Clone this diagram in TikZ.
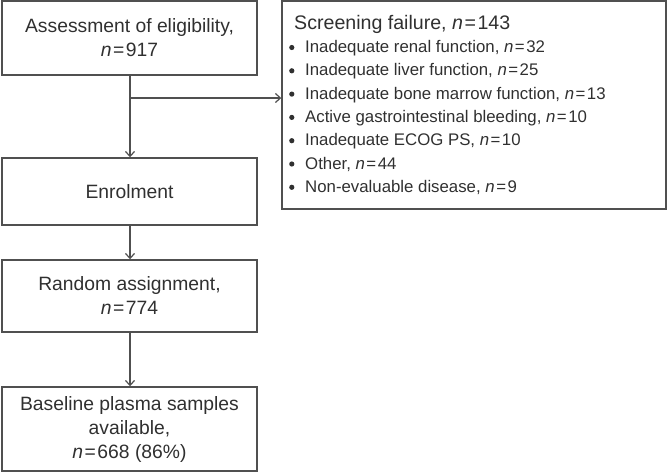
\documentclass[tikz,border=0pt]{standalone}
\usepackage{fontspec}
\setmainfont{Liberation Sans}
\usetikzlibrary{arrows.meta}
\definecolor{linec}{HTML}{505050}
\definecolor{textc}{HTML}{303030}
\newcommand{\nn}[1]{\textit{n}\kern1.5pt=\kern1.5pt#1}
\newcommand{\bul}{\makebox[17pt][l]{\kern1pt\tikz[baseline=0pt]\fill[textc] (2.6pt,5pt) circle[radius=2.6pt];}}
\tikzset{
  box/.style={draw=linec, line width=1.4pt, rectangle, inner sep=0pt, align=center,
    text=textc, font=\fontsize{19.3}{24}\selectfont, minimum width=255pt},
  arr/.style={draw=linec, line width=1.2pt, -{Straight Barb[length=5pt,width=9pt]}},
  item/.style={anchor=base west, inner sep=0pt, text=textc, font=\fontsize{16.8}{20}\selectfont},
}
\begin{document}
\begin{tikzpicture}[x=1pt,y=-1pt]
\useasboundingbox (0,0) rectangle (667,472);
\node[box, minimum height=74pt] (assess) at (129.5,38) {Assessment of eligibility,\\ \nn{917}};
\node[box, minimum height=67pt] (enrol) at (129.5,191.5) {Enrolment};
\node[box, minimum height=72pt] (random) at (129.5,296) {Random assignment,\\ \nn{774}};
\node[box, minimum height=84pt] (base) at (129.5,429) {Baseline plasma samples\\ available,\\ \nn{668} (86\%)};
\node[draw=linec, line width=1.4pt, rectangle, inner sep=0pt, minimum width=384pt, minimum height=208pt] (scr) at (474,105) {};
\node[anchor=base west, inner sep=0pt, text=textc, font=\fontsize{19.6}{24}\selectfont] (head) at (294,29) {Screening failure, \nn{143}};
\node[item] (l1) at (288,52.5) {\bul Inadequate renal function, \nn{32}};
\node[item] (l2) at (288,75.8) {\bul Inadequate liver function, \nn{25}};
\node[item] (l3) at (288,99.1) {\bul Inadequate bone marrow function, \nn{13}};
\node[item] (l4) at (288,122.4) {\bul Active gastrointestinal bleeding, \nn{10}};
\node[item] (l5) at (288,145.7) {\bul Inadequate ECOG PS, \nn{10}};
\node[item] (l6) at (288,169) {\bul Other, \nn{44}};
\node[item] (l7) at (288,192.3) {\bul Non-evaluable disease, \nn{9}};
\coordinate (br) at (130,98);
\draw[arr] (assess.south -| br) -- (enrol.north -| br);
\draw[arr] (br) -- (br -| scr.west);
\draw[arr] (enrol.south -| br) -- (random.north -| br);
\draw[arr] (random.south -| br) -- (base.north -| br);
\end{tikzpicture}
\end{document}
